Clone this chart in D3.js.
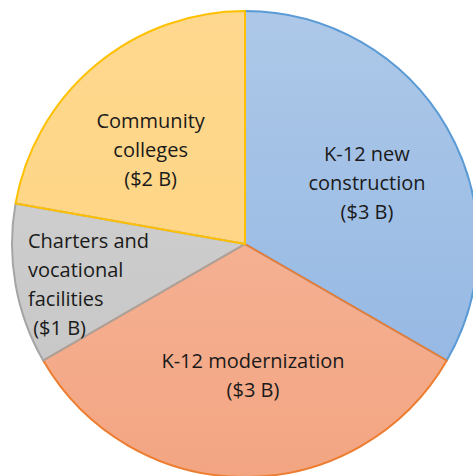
<!DOCTYPE html>
<html>
<head>
<meta charset="utf-8">
<script src="https://cdn.jsdelivr.net/npm/d3@7/dist/d3.min.js"></script>
<style>
  body { margin: 0; background: #fff; }
  svg { display: block; font-family: "Open Sans", "Noto Sans", sans-serif; }
</style>
</head>
<body>
<svg id="chart" width="473" height="476"></svg>
<script>
const categories = ['K-12 new construction', 'K-12 modernization', 'Charters and vocational facilities', 'Community colleges'];
const values = [3, 3, 1, 2];
const labelLines = [
  ['K-12 new', 'construction', '($3 B)'],
  ['K-12 modernization', '($3 B)'],
  ['Charters and', 'vocational', 'facilities', ' ($1 B)'],
  ['Community', 'colleges', '($2 B)']
];
const fillTop = ['#adc8e8', '#f6bca2', '#d5d5d5', '#ffd88f'];
const fillBottom = ['#8fb4e2', '#f3a582', '#c3c3c3', '#ffd47e'];
const strokes = ['#5b9bd5', '#ed7d31', '#a5a5a5', '#ffc000'];

const svg = d3.select('#chart');
const cx = 245, cy = 244, r = 233;

// vertical gradients across the whole pie, like the office fill
const defs = svg.append('defs');
categories.forEach((c, i) => {
  const g = defs.append('linearGradient').attr('id', 'grad' + i)
    .attr('gradientUnits', 'userSpaceOnUse')
    .attr('x1', 0).attr('y1', -r).attr('x2', 0).attr('y2', r);
  g.append('stop').attr('offset', '0%').attr('stop-color', fillTop[i]);
  g.append('stop').attr('offset', '100%').attr('stop-color', fillBottom[i]);
});

const pie = d3.pie().sort(null).value(d => d)(values);
const arc = d3.arc().innerRadius(0).outerRadius(r);

const root = svg.append('g').attr('transform', `translate(${cx},${cy})`);

root.selectAll('path.slice').data(pie).enter().append('path')
  .attr('class', 'slice')
  .attr('d', arc)
  .attr('fill', (d, i) => `url(#grad${i})`);

root.selectAll('path.edge').data(pie).enter().append('path')
  .attr('class', 'edge')
  .attr('d', arc)
  .attr('fill', 'none')
  .attr('stroke', (d, i) => strokes[i])
  .attr('stroke-width', 2)
  .attr('stroke-linejoin', 'round');

// label placement tweaks per slice
const labelR = [0.56, 0.57, 0.72, 0.55];
const dx = [9, 8, 0, -12];
const dy = [11, 6, 18, 11];
const lineH = 29;
pie.forEach((d, i) => {
  const [lx, ly] = d3.arc().innerRadius(r * labelR[i]).outerRadius(r * labelR[i]).centroid(d);
  const lines = labelLines[i];
  const left = i === 2;
  const t = root.append('text')
    .attr('font-size', 20)
    .attr('fill', '#1a1a1a')
    .attr('text-anchor', left ? 'start' : 'middle');
  lines.forEach((s, k) => {
    t.append('tspan')
      .attr('x', left ? -217 : lx + dx[i])
      .attr('y', ly + (k - (lines.length - 1) / 2) * lineH + dy[i])
      .attr('xml:space', 'preserve')
      .text(s);
  });
});
</script>
</body>
</html>
